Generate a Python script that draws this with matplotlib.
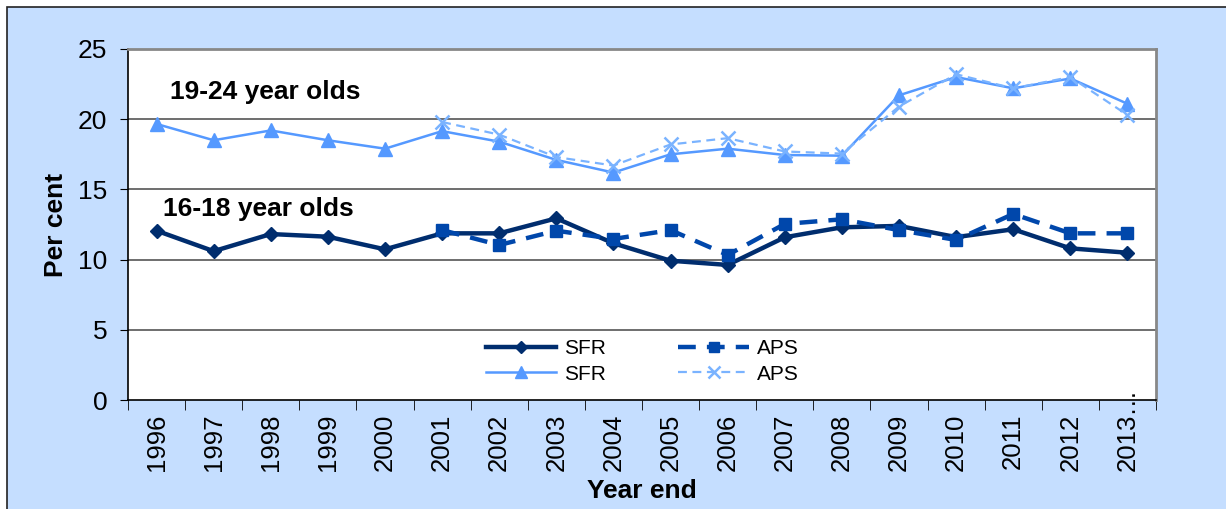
import numpy as np
import matplotlib.pyplot as plt
import matplotlib.transforms as mtransforms
from matplotlib.patches import Rectangle

plt.rcParams['font.family'] = ['Liberation Sans', 'DejaVu Sans']

years = ['1996', '1997', '1998', '1999', '2000', '2001', '2002', '2003', '2004',
         '2005', '2006', '2007', '2008', '2009', '2010', '2011', '2012', '2013…']

# 16-18 year olds
sfr_1618 = [12.06, 10.6, 11.82, 11.63, 10.73, 11.87, 11.87, 12.94, 11.16,
            9.92, 9.62, 11.59, 12.3, 12.4, 11.6, 12.16, 10.8, 10.49]
aps_1618 = [None, None, None, None, None, 12.1, 11.04, 12.06, 11.47,
            12.1, 10.33, 12.54, 12.87, 12.1, 11.4, 13.25, 11.87, 11.87]

# 19-24 year olds
sfr_1924 = [19.66, 18.5, 19.2, 18.5, 17.9, 19.15, 18.4, 17.1, 16.2,
            17.5, 17.9, 17.45, 17.4, 21.7, 23.0, 22.2, 22.9, 21.1]
aps_1924 = [None, None, None, None, None, 19.8, 18.9, 17.3, 16.7,
            18.2, 18.65, 17.7, 17.55, 20.9, 23.2, 22.2, 23.0, 20.3]

bg = '#c5deff'
c_sfr1 = '#002d6e'
c_aps1 = '#0047ab'
c_sfr2 = '#5599ff'
c_aps2 = '#7ab3ff'


def to_arr(v):
    return np.array([np.nan if a is None else a for a in v], dtype=float)


fig = plt.figure(figsize=(12.26, 5.09), dpi=100)
fig.patch.set_facecolor('white')
fig.patches.append(Rectangle((7 / 1226, -0.05), 1.1, 1 - 7 / 509 + 0.05,
                             transform=fig.transFigure, facecolor=bg,
                             edgecolor='#222222', linewidth=1.2, zorder=-10))

ax = fig.add_axes([128 / 1226, 109 / 509, 1028 / 1226, 351 / 509])
ax.set_facecolor('white')

x = np.arange(len(years))

ax.plot(x, to_arr(sfr_1618), color=c_sfr1, lw=3.2, marker='D', ms=7,
        label='SFR', zorder=4)
ax.plot(x, to_arr(sfr_1924), color=c_sfr2, lw=1.8, marker='^', ms=10,
        label='SFR', zorder=3)
ax.plot(x, to_arr(aps_1618), color=c_aps1, lw=3.2, marker='s', ms=9,
        dashes=(4, 2.5), label='APS', zorder=5)
ax.plot(x, to_arr(aps_1924), color=c_aps2, lw=1.6, marker='x', ms=10, mew=1.8,
        dashes=(4, 2.5), label='APS', zorder=4)

ax.set_xlim(-0.5, len(years) - 0.5)
ax.set_ylim(0, 25)
ax.set_yticks([0, 5, 10, 15, 20, 25])
ax.set_xticks(x)
ax.set_xticklabels(years, rotation=90, fontsize=18.5)
ax.set_xticks(np.arange(-0.5, len(years), 1), minor=True)
ax.tick_params(axis='x', which='major', length=0, pad=10)
ax.tick_params(axis='x', which='minor', length=7, direction='out', color='black')
ax.tick_params(axis='y', labelsize=19, length=6, direction='out', pad=9)

# the truncated last label pokes up into the plot, like the original
last = ax.get_xticklabels()[-1]
last.set_transform(last.get_transform() +
                   mtransforms.ScaledTranslation(0, 18.5 / 72, fig.dpi_scale_trans))
last.set_clip_on(False)

for v in [5, 10, 15, 20]:
    ax.axhline(v, color='#555555', lw=1.2, zorder=1)

for s in ['top', 'right']:
    ax.spines[s].set_color('#888888')
    ax.spines[s].set_linewidth(2)
for s in ['left', 'bottom']:
    ax.spines[s].set_color('black')
    ax.spines[s].set_linewidth(1.2)

ax.set_ylabel('Per cent', fontsize=19, fontweight='bold', labelpad=7)
ax.set_xlabel('Year end', fontsize=19, fontweight='bold')
ax.xaxis.set_label_coords(0.5, -0.224)

ax.text(0.24, 21.94, '19-24 year olds', fontsize=19, fontweight='bold', va='center')
ax.text(0.11, 13.6, '16-18 year olds', fontsize=19, fontweight='bold', va='center')

leg = ax.legend(ncol=2, loc='center', bbox_to_anchor=(0.5, 0.11),
                frameon=False, fontsize=15, handlelength=3.4, markerscale=0.85,
                columnspacing=3.5, labelspacing=0.3, handletextpad=0.35)

fig.savefig('out.png', dpi=100, facecolor=fig.get_facecolor())
